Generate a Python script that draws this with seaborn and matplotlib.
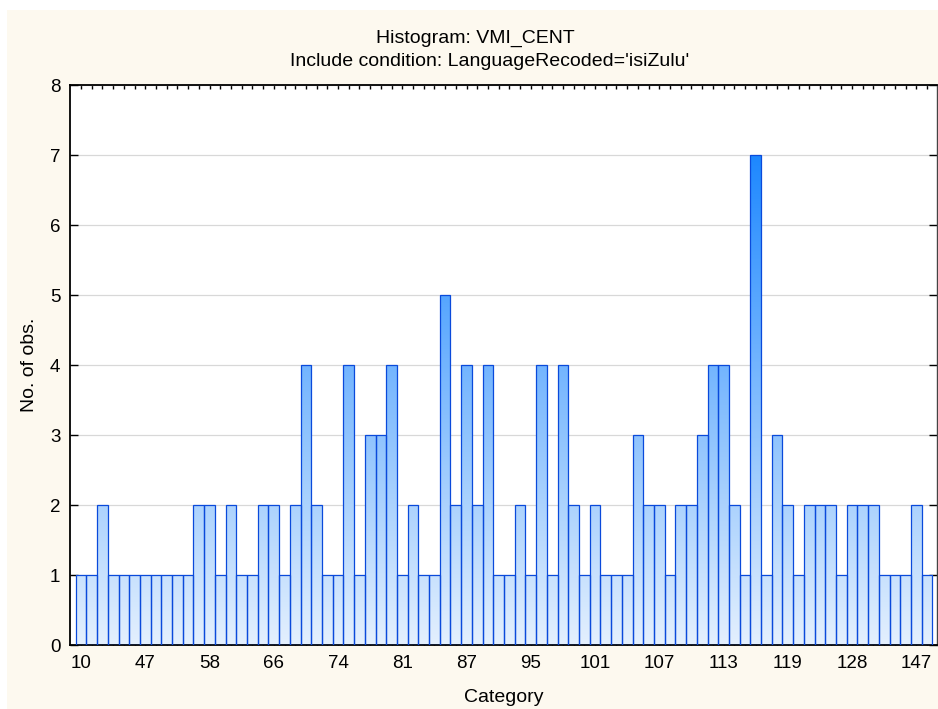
import numpy as np
import pandas as pd
import matplotlib
matplotlib.use("Agg")
import matplotlib.pyplot as plt
from matplotlib.colors import LinearSegmentedColormap
from matplotlib.patches import Rectangle
import seaborn as sns

# ---- data ----
categories = [10, 20, 28, 33, 38, 43,
              47, 49, 51, 53, 55, 56,
              58, 59, 60, 62, 63, 64,
              66, 67, 68, 70, 71, 72,
              74, 75, 76, 77, 78, 79,
              81, 82, 83, 84, 85, 86,
              87, 88, 90, 91, 92, 93,
              95, 96, 97, 98, 99, 100,
              101, 102, 103, 104, 105, 106,
              107, 108, 109, 110, 111, 112,
              113, 114, 115, 116, 117, 118,
              119, 121, 122, 124, 125, 126,
              128, 130, 132, 134, 137, 140,
              147, 150]
counts = [1, 1, 2, 1, 1, 1, 1, 1, 1, 1, 1, 2, 2, 1, 2, 1, 1, 2, 2, 1, 2, 4, 2, 1, 1, 4, 1,
          3, 3, 4, 1, 2, 1, 1, 5, 2, 4, 2, 4, 1, 1, 2, 1, 4, 1, 4, 2, 1, 2, 1, 1, 1, 3,
          2, 2, 1, 2, 2, 3, 4, 4, 2, 1, 7, 1, 3, 2, 1, 2, 2, 2, 1, 2, 2, 2, 1, 1, 1, 2, 1]
shown_labels = ["10", "47", "58", "66", "74", "81", "87", "95", "101", "107",
                "113", "119", "128", "147"]
yticks = [0, 1, 2, 3, 4, 5, 6, 7, 8]

title1 = "Histogram: VMI_CENT"
title2 = "Include condition: LanguageRecoded='isiZulu'"
xlabel = "Category"
ylabel = "No. of obs."

sns.set_style("white")
plt.rcParams["font.family"] = ["Liberation Sans", "DejaVu Sans"]
plt.rcParams["text.color"] = "black"
plt.rcParams["axes.labelcolor"] = "black"

df = pd.DataFrame({"cat": [str(c) for c in categories], "n": counts})

fig = plt.figure(figsize=(9.38, 7.09), dpi=100, facecolor="white")
fig.patches.append(Rectangle((7 / 938, 0), 1 - 7 / 938, 1 - 10 / 709,
                             transform=fig.transFigure, facecolor="#FDF9EF",
                             edgecolor="none", zorder=-10))
ax = fig.add_axes([70 / 938, 64 / 709, 867 / 938, 560 / 709])
ax.set_facecolor("white")

sns.barplot(data=df, x="cat", y="n", order=[str(c) for c in categories],
            width=1.0, color="#9cc8f8", edgecolor="#0A4ADB", linewidth=0.9,
            ax=ax, zorder=3)

cmap = LinearSegmentedColormap.from_list("g", ["#E4F0FD", "#1E88FF"])
ymax_grad = 7.0
for p in ax.patches:
    x0, w, h = p.get_x(), p.get_width(), p.get_height()
    grad = np.linspace(0, h, 200).reshape(-1, 1)
    ax.imshow(grad, cmap=cmap, vmin=0, vmax=ymax_grad, origin="lower",
              extent=(x0, x0 + w, 0, h), aspect="auto", zorder=2,
              interpolation="bilinear")
    p.set_facecolor("none")

n = len(categories)
ax.set_xlim(-1.03, n - 1 + 0.93)
ax.set_ylim(0, 8)
ax.set_yticks(yticks)
ax.set_yticklabels([str(v) for v in yticks], fontsize=13.5)
ax.set_xticks(range(n))
lab = []
k = 0
for i in range(n):
    if i % 6 == 0 and k < len(shown_labels):
        lab.append(shown_labels[k]); k += 1
    else:
        lab.append("")
ax.set_xticklabels(lab, fontsize=13.5)
ax.tick_params(axis="x", direction="in", length=3, width=1, top=True, bottom=True,
               pad=7, colors="black")
ax.tick_params(axis="y", direction="in", length=6, width=1, left=True, right=True,
               pad=7, colors="black")
ax.grid(axis="y", color="#D8D8D8", linewidth=0.9, zorder=0)
ax.grid(axis="x", visible=False)
ax.set_axisbelow(True)
for s in ["left", "bottom", "top"]:
    ax.spines[s].set_color("black")
    ax.spines[s].set_linewidth(1.3)
ax.spines["right"].set_color("#444444")
ax.spines["right"].set_linewidth(1.0)

ax.set_xlabel(xlabel, fontsize=14, labelpad=12.5)
ax.set_ylabel(ylabel, fontsize=14, labelpad=8.5)

fig.text(475.5 / 938, 1 - 38 / 709, title1, ha="center", va="center", fontsize=14)
fig.text(490 / 938, 1 - 62 / 709, title2, ha="center", va="center", fontsize=14)

fig.savefig("out.png", dpi=100, facecolor=fig.get_facecolor())
